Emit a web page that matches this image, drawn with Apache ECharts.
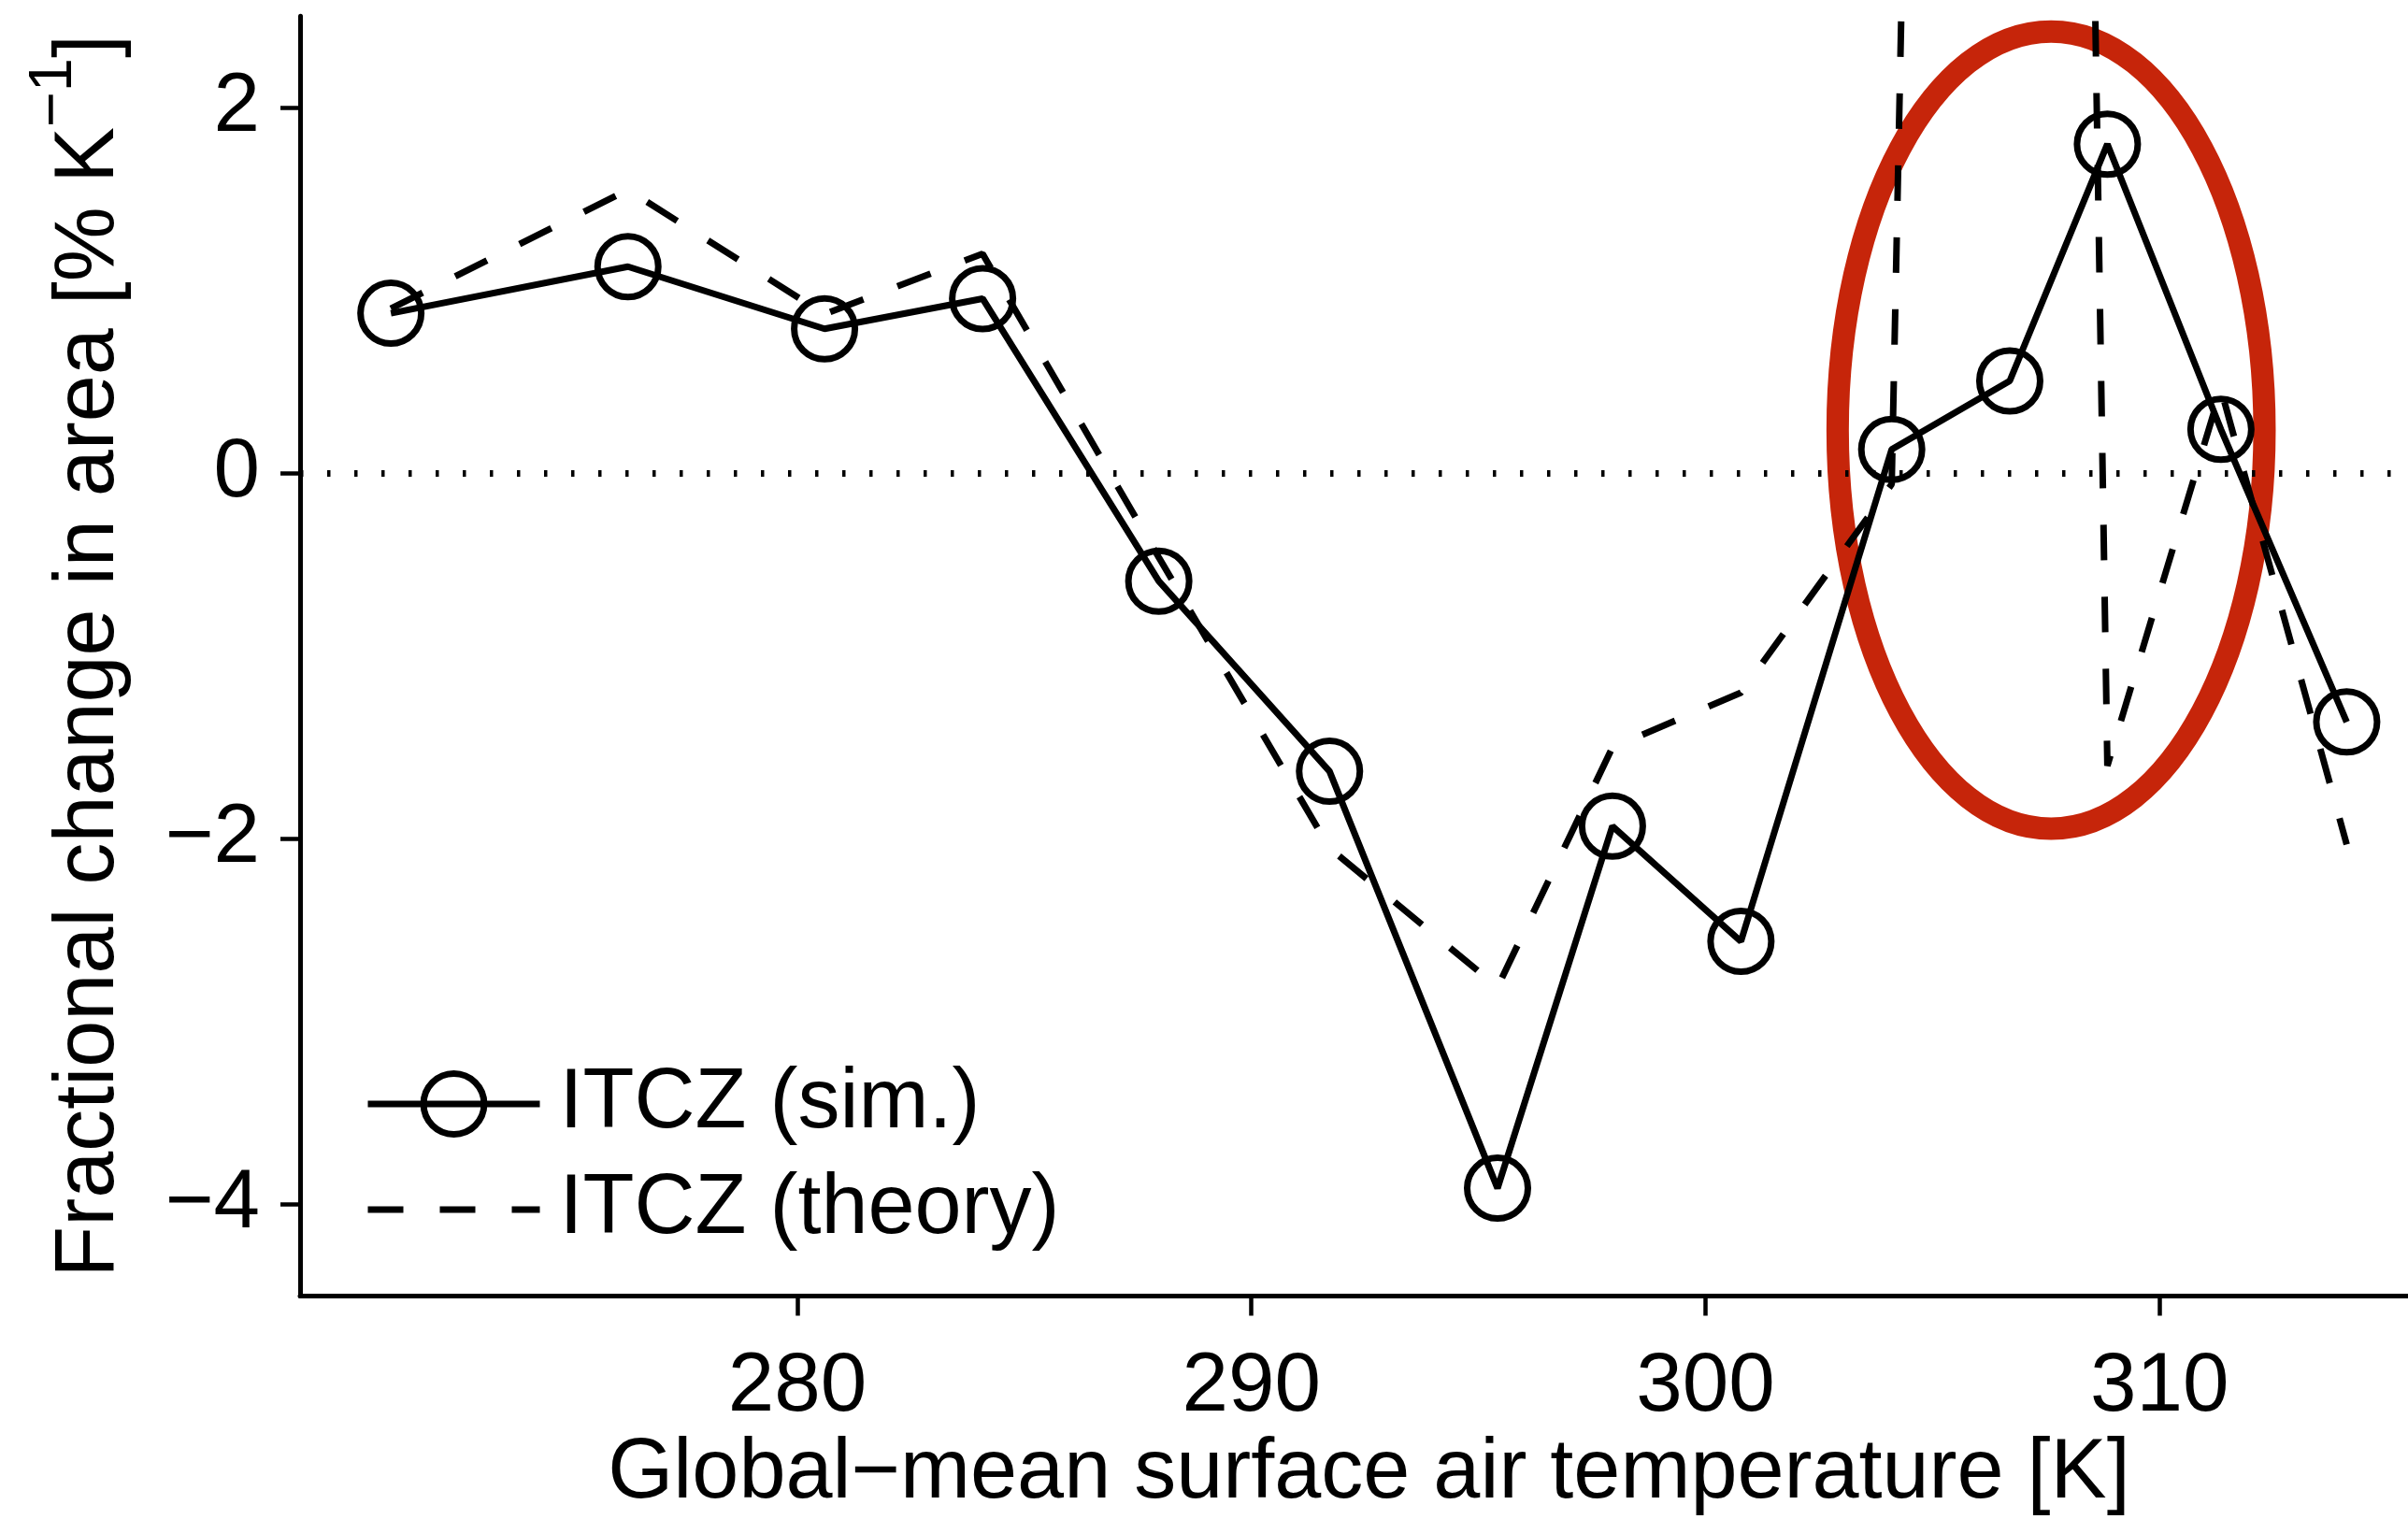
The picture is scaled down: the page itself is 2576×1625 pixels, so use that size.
<!DOCTYPE html>
<html>
<head>
<meta charset="utf-8">
<script src="https://cdn.jsdelivr.net/npm/echarts@6/dist/echarts.min.js"></script>
<style>
html, body { margin: 0; padding: 0; background: #ffffff; }
#chart { width: 2576px; height: 1625px; }
</style>
</head>
<body>
<div id="chart"></div>
<script>
// ---- data ----
const temperatures = [271.05, 276.27, 280.60, 284.08, 287.96, 291.72, 295.42, 297.95, 300.78, 304.10, 306.70, 308.85, 311.35, 314.12];
const simValues    = [0.875, 1.13, 0.79, 0.955, -0.59, -1.63, -3.91, -1.93, -2.56, 0.13, 0.505, 1.80, 0.24, -1.36];
const theoryValues = [0.90, 1.55, 0.87, 1.20, -0.46, -2.05, -2.81, -1.50, -1.20, -0.06, 31.5, -1.60, 0.46, -2.03];
const xTicks = [280, 290, 300, 310];
const yTicks = [-4, -2, 0, 2];
const seriesNames = ['ITCZ (sim.)', 'ITCZ (theory)'];
const xTitle = 'Global\u2212mean surface air temperature [K]';
const yTitleMain = 'Fractional change in area [% K';
const yTitleSup = '\u22121';
const yTitleEnd = ']';
// highlight ellipse (data units): centre x, centre y, radius x, radius y
const highlightEllipse = [307.61, 0.236, 4.70, 2.18];

const FONT = '"Liberation Sans", Arial, Helvetica, sans-serif';
const simData = temperatures.map((t, i) => [t, simValues[i]]);
const theoryData = temperatures.map((t, i) => [t, theoryValues[i]]);
const fmtMinus = v => (v < 0 ? '\u2212' + Math.abs(v) : String(v));

const chart = echarts.init(document.getElementById('chart'), null, { renderer: 'canvas' });
chart.setOption({
  animation: false,
  backgroundColor: '#ffffff',
  grid: { left: 321, right: 0, top: 17.25, bottom: 238.5, outerBoundsMode: 'none', containLabel: false },
  xAxis: {
    type: 'value', min: 269.05, max: 315.47,
    axisLine: { onZero: false, lineStyle: { color: '#000', width: 5 } },
    axisTick: { customValues: xTicks, length: 21, lineStyle: { color: '#000', width: 4.5 } },
    axisLabel: { customValues: xTicks, margin: 53, fontSize: 89, color: '#000', fontFamily: FONT },
    splitLine: { show: false },
    name: xTitle, nameLocation: 'middle', nameGap: 146, nameMoveOverlap: false,
    nameTextStyle: { fontSize: 90, color: '#000', fontFamily: FONT, padding: [0, 0, 0, 32] }
  },
  yAxis: {
    type: 'value', min: -4.5, max: 2.5,
    axisLine: { onZero: false, lineStyle: { color: '#000', width: 5 } },
    axisTick: { customValues: yTicks, length: 21, lineStyle: { color: '#000', width: 4.5 } },
    axisLabel: { customValues: yTicks, margin: 43, fontSize: 89, color: '#000', fontFamily: FONT, formatter: fmtMinus },
    splitLine: { show: false },
    name: '{m|' + yTitleMain + '}{s|' + yTitleSup + '}{m|' + yTitleEnd + '}',
    nameLocation: 'middle', nameGap: 154, nameMoveOverlap: false,
    nameTextStyle: {
      color: '#000', fontFamily: FONT, fontSize: 90,
      rich: {
        m: { fontSize: 90, lineHeight: 141, color: '#000', fontFamily: FONT },
        s: { fontSize: 65, lineHeight: 65, verticalAlign: 'top', color: '#000', fontFamily: FONT }
      }
    }
  },
  legend: {
    orient: 'vertical', left: 390, top: 1136, padding: 0,
    itemWidth: 184, itemHeight: 81, itemGap: 23,
    selectedMode: false,
    textStyle: { fontSize: 90, lineHeight: 90, color: '#000', fontFamily: FONT, padding: [0, 0, 0, 16] },
    lineStyle: { width: 7 },
    data: [
      { name: seriesNames[0], itemStyle: { color: 'rgba(0,0,0,0)', borderColor: '#000', borderWidth: 7 } },
      { name: seriesNames[1], itemStyle: { color: 'rgba(0,0,0,0)', borderColor: 'rgba(0,0,0,0)', borderWidth: 0 } }
    ]
  },
  series: [
    {
      type: 'custom', name: 'highlight', z: 1, silent: true,
      data: [highlightEllipse],
      encode: { x: 0, y: 1 },
      clip: false,
      renderItem: function (params, api) {
        const c = api.coord([api.value(0), api.value(1)]);
        const s = api.size([api.value(2), api.value(3)]);
        return {
          type: 'ellipse',
          shape: { cx: c[0], cy: c[1], rx: s[0], ry: s[1] },
          style: { fill: 'none', stroke: '#c6250a', lineWidth: 24 }
        };
      }
    },
    {
      type: 'line', name: seriesNames[1], z: 3, data: theoryData,
      symbol: 'none', clip: true,
      itemStyle: { color: 'rgba(0,0,0,0)', borderColor: 'rgba(0,0,0,0)' },
      lineStyle: { color: '#000', width: 7, type: [38, 39] }
    },
    {
      type: 'line', name: seriesNames[0], z: 4, data: simData,
      symbol: 'circle', symbolSize: 65, showAllSymbol: true, clip: true,
      itemStyle: { color: 'rgba(0,0,0,0)', borderColor: '#000', borderWidth: 7 },
      lineStyle: { color: '#000', width: 7 },
      markLine: {
        silent: true, symbol: ['none', 'none'], label: { show: false },
        lineStyle: { color: '#000', width: 7, type: [3.5, 25.5] },
        data: [{ yAxis: 0 }]
      }
    }
  ]
});
</script>
</body>
</html>
